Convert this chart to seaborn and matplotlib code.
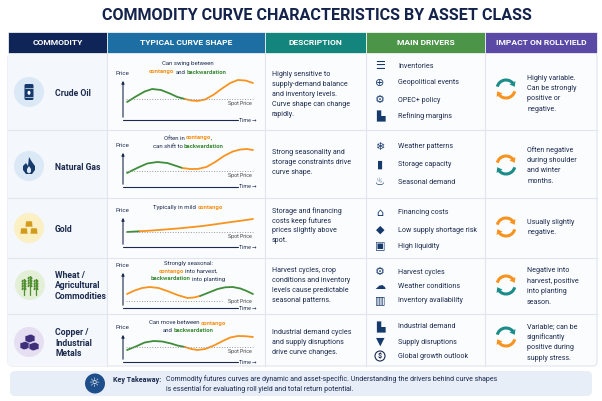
import numpy as np
import pandas as pd
import matplotlib.pyplot as plt
import seaborn as sns
from matplotlib.patches import Rectangle, FancyBboxPatch, Circle, Polygon, Ellipse, Arc

sns.set_theme(style="white")
plt.rcParams['font.family'] = ['Roboto', 'DejaVu Sans']

NAVY = '#1b2a4e'
ORANGE = '#f7931e'
GREEN = '#3f8d3a'
TEAL = '#1a8c8a'

# ---- data ----
title = "COMMODITY CURVE CHARACTERISTICS BY ASSET CLASS"
headers = ["COMMODITY", "TYPICAL CURVE SHAPE", "DESCRIPTION", "MAIN DRIVERS", "IMPACT ON ROLLYIELD"]
header_colors = ['#0f2557', '#1c6ea3', '#14857c', '#4c9447', '#5a4aa6']

commodities = ["Crude Oil", "Natural Gas", "Gold",
               "Wheat /\nAgricultural\nCommodities", "Copper /\nIndustrial\nMetals"]

curve_titles = [
    [[("Can swing between", NAVY)],
     [("contango", ORANGE), (" and ", NAVY), ("backwardation", GREEN)]],
    [[("Often in ", NAVY), ("contango", ORANGE), (",", NAVY)],
     [("can shift to ", NAVY), ("backwardation", GREEN)]],
    [[("Typically in mild ", NAVY), ("contango", ORANGE)]],
    [[("Strongly seasonal:", NAVY)],
     [("contango", ORANGE), (" into harvest,", NAVY)],
     [("backwardation", GREEN), (" into planting", NAVY)]],
    [[("Can move between ", NAVY), ("contango", ORANGE)],
     [("and ", NAVY), ("backwardation", GREEN)]],
]

# futures price relative to spot along time to maturity
crude_t = [0, 0.7, 1.4, 2.0, 2.7, 3.4, 4.0, 4.6, 5.1, 5.6, 6.2, 6.9, 7.6, 8.2, 8.8, 9.4, 10]
crude_p = [-0.3, 0.25, 0.75, 1.0, 0.9, 0.55, 0.2, 0.0, -0.15, -0.2, -0.05, 0.45, 1.1, 1.6, 1.9, 1.85, 1.6]
gas_t = [0, 0.8, 1.6, 2.4, 3.2, 3.8, 4.4, 5.0, 5.6, 6.3, 7.0, 7.7, 8.4, 9.0, 9.5, 10]
gas_p = [-0.2, 0.3, 0.75, 0.9, 0.8, 0.55, 0.3, 0.2, 0.2, 0.4, 0.9, 1.5, 1.95, 2.15, 2.2, 2.1]
gold_t = [0, 1, 2, 3, 4, 5, 6, 7, 8, 9, 10]
gold_p = [0.0, 0.07, 0.15, 0.25, 0.35, 0.47, 0.6, 0.77, 0.95, 1.12, 1.3]
wheat_t = [0, 0.6, 1.2, 1.8, 2.5, 3.2, 4.0, 4.8, 5.3, 5.8, 6.5, 7.2, 7.8, 8.4, 9.0, 9.5, 10]
wheat_p = [0.7, 1.05, 1.3, 1.4, 1.3, 1.0, 0.6, 0.3, 0.35, 0.5, 0.85, 1.2, 1.37, 1.4, 1.25, 1.0, 0.7]
copper_t = [0, 0.7, 1.4, 2.1, 2.8, 3.5, 4.0, 4.6, 5.1, 5.6, 6.2, 6.9, 7.6, 8.2, 8.8, 9.4, 10]
copper_p = [-0.3, 0.05, 0.45, 0.6, 0.55, 0.35, 0.15, 0.0, -0.2, -0.3, -0.2, 0.15, 0.6, 0.95, 1.1, 1.08, 1.0]

curves = [(crude_t, crude_p), (gas_t, gas_p), (gold_t, gold_p), (wheat_t, wheat_p), (copper_t, copper_p)]
split_idx = [7, 6, 1, 9, 7]
regimes = [(GREEN, ORANGE), (GREEN, ORANGE), (GREEN, ORANGE), (ORANGE, GREEN), (GREEN, ORANGE)]

descriptions = [
    "Highly sensitive to\nsupply-demand balance\nand inventory levels.\nCurve shape can change\nrapidly.",
    "Strong seasonality and\nstorage constraints drive\ncurve shape.",
    "Storage and financing\ncosts keep futures\nprices slightly above\nspot.",
    "Harvest cycles, crop\nconditions and inventory\nlevels cause predictable\nseasonal patterns.",
    "Industrial demand cycles\nand supply disruptions\ndrive curve changes.",
]

drivers = [
    ["Inventories", "Geopolitical events", "OPEC+ policy", "Refining margins"],
    ["Weather patterns", "Storage capacity", "Seasonal demand"],
    ["Financing costs", "Low supply shortage risk", "High liquidity"],
    ["Harvest cycles", "Weather conditions", "Inventory availability"],
    ["Industrial demand", "Supply disruptions", "Global growth outlook"],
]
driver_glyphs = [["☰", "⊕", "⚙", "▙"], ["❄", "▮", "♨"], ["⌂", "◆", "▣"],
                 ["⚙", "☁", "▥"], ["▙", "▼", "$"]]

impacts = [
    "Highly variable.\nCan be strongly\npositive or\nnegative.",
    "Often negative\nduring shoulder\nand winter\nmonths.",
    "Usually slightly\nnegative.",
    "Negative into\nharvest, positive\ninto planting\nseason.",
    "Variable; can be\nsignificantly\npositive during\nsupply stress.",
]
impact_arrows = [(TEAL, ORANGE), (ORANGE, TEAL), (ORANGE, ORANGE), (ORANGE, TEAL), (TEAL, ORANGE)]

takeaway = ("Commodity futures curves are dynamic and asset-specific. Understanding the drivers behind curve shapes\n"
            "is essential for evaluating roll yield and total return potential.")

# ---- layout (pixels) ----
W, H = 602, 401
col_x = [8, 107, 265, 366, 485, 597]
row_y = [53, 130, 198, 258, 314, 366]
icon_c = [(29, 92), (29, 166), (29, 228), (30, 285), (29, 342)]
panel_px = [(78, 120, 99), (150, 187, 171), (215, 247, 232), (270, 308, 301), (332, 362, 347)]
spot_lbl = [(4.5, 0.95), (4.5, 0.95), (4.5, 0.95), (0.5, 0.72), (4.5, 0.95)]
title_y = [[64, 72], [138, 146], [208], [263, 271, 279], [323, 330]]
desc_y0 = [74, 153, 211, 271, 332]
driver_y = [[66, 83, 100, 116], [147, 165, 182], [213, 230, 246], [272, 286, 300], [327, 342, 356]]
impact_y0 = [78, 150, 222, 271, 327]
impact_c = [89, 165, 227, 285, 337]

fig = plt.figure(figsize=(W / 100, H / 100), dpi=100)
fig.patch.set_facecolor('white')
bg = fig.add_axes([0, 0, 1, 1])
bg.set_xlim(0, W)
bg.set_ylim(H, 0)
bg.axis('off')
renderer = fig.canvas.get_renderer()

bg.text(317, 16, title, ha='center', va='center', fontsize=11.6, fontweight='bold', color='#14234b')

# table body
bg.add_patch(FancyBboxPatch((col_x[0], row_y[0]), col_x[-1] - col_x[0], row_y[-1] - row_y[0],
                            boxstyle="round,pad=0,rounding_size=4", fc='#fbfcfe', ec='#dfe5ee', lw=0.8))
bg.add_patch(Rectangle((col_x[0], row_y[0]), col_x[1] - col_x[0], row_y[-1] - row_y[0],
                       fc='#f4f7fb', ec='none'))
for x in col_x[1:-1]:
    bg.plot([x, x], [row_y[0], row_y[-1]], color='#e1e6ee', lw=0.8)
for y in row_y[1:-1]:
    bg.plot([col_x[0], col_x[-1]], [y, y], color='#e1e6ee', lw=0.8)

# header
for i, (h, c) in enumerate(zip(headers, header_colors)):
    bg.add_patch(Rectangle((col_x[i], 32), col_x[i + 1] - col_x[i], 21, fc=c, ec='white', lw=0.5))
    bg.text((col_x[i] + col_x[i + 1]) / 2, 42.5, h, ha='center', va='center',
            fontsize=6.1, fontweight='bold', color='white')


def rich_line(xc, y, parts, size):
    # words are laid out one after another, spaces given a fixed width
    space = 0.2 * size * 100 / 72
    items = []
    for s, c in parts:
        weight = 'bold' if c != NAVY else 'normal'
        lead = len(s) - len(s.lstrip(' '))
        trail = len(s) - len(s.rstrip(' '))
        t = bg.text(0, y, s.strip(' '), color=c, fontsize=size, va='center', ha='left', fontweight=weight)
        bb = t.get_window_extent(renderer)
        items.append((t, lead * space, bb.width + trail * space))
    total = sum(a + b for _, a, b in items)
    x = xc - total / 2
    for t, a, b in items:
        x += a
        t.set_x(x)
        x += b


def circ_arrow(cx, cy, r, th1, th2, color):
    bg.add_patch(Arc((cx, cy), 2 * r, 2 * r, theta1=th1, theta2=th2, color=color, lw=2.2))
    a0, a1 = np.radians(th2 - 4), np.radians(th2 + 26)
    b = np.array([cx + r * np.cos(a0), cy + r * np.sin(a0)])
    tip = np.array([cx + r * np.cos(a1), cy + r * np.sin(a1)])
    u = (tip - b) / np.linalg.norm(tip - b)
    n = np.array([-u[1], u[0]])
    bg.add_patch(Polygon([b + 3.4 * n, b - 3.4 * n, tip], fc=color, ec='none'))


def commodity_icon(i, cx, cy):
    face = ['#dbe8f5', '#dbe8f5', '#fbefc4', '#e3efd7', '#e6dff2'][i]
    bg.add_patch(Circle((cx, cy), 15, fc=face, ec='none'))
    if i == 0:
        bg.add_patch(FancyBboxPatch((cx - 4.5, cy - 8), 9, 16, boxstyle="round,pad=0,rounding_size=1.5",
                                    fc='#173a6c', ec='none'))
        bg.plot([cx - 4.5, cx + 4.5], [cy - 4.5, cy - 4.5], color='#dbe8f5', lw=0.5)
        bg.plot([cx - 4.5, cx + 4.5], [cy + 4.5, cy + 4.5], color='#dbe8f5', lw=0.5)
        bg.add_patch(Ellipse((cx, cy + 0.8), 3, 4, fc='white', ec='none'))
    elif i == 1:
        pts = [(0, -9), (3, -4), (6, 0), (6, 4), (3, 8), (-3, 8), (-6, 4), (-6, 0), (-3, -3), (-1, 0)]
        bg.add_patch(Polygon([(cx + a, cy + b) for a, b in pts], fc='#173a6c', ec='none'))
        inner = [(0, 0), (2, 3), (2, 6), (0, 7.5), (-2, 6), (-2, 3)]
        bg.add_patch(Polygon([(cx + a, cy + b) for a, b in inner], fc='#dbe8f5', ec='none'))
    elif i == 2:
        for ox, oy in [(-5, 3), (5, 3), (0, -4)]:
            trap = [(-4, 3), (4, 3), (3, -3), (-3, -3)]
            bg.add_patch(Polygon([(cx + ox + a, cy + oy + b) for a, b in trap], fc='#d29b1c', ec='#fbefc4', lw=0.4))
    elif i == 3:
        for ox, top in [(-6, -6), (0, -9), (6, -6)]:
            bg.plot([cx + ox, cx + ox], [cy + top, cy + 10], color='#4f8f2f', lw=0.9)
            for k in range(4):
                yy = cy + top + 2 + k * 2.6
                bg.add_patch(Ellipse((cx + ox - 1.3, yy), 2, 3, angle=30, fc='#4f8f2f', ec='none'))
                bg.add_patch(Ellipse((cx + ox + 1.3, yy), 2, 3, angle=-30, fc='#4f8f2f', ec='none'))
    else:
        for ox, oy in [(-5, 3), (4, 4), (0, -4)]:
            cube = [(-4, -2), (2, -4), (6, -2), (6, 3), (0, 5), (-4, 3)]
            bg.add_patch(Polygon([(cx + ox + a, cy + oy + b) for a, b in cube], fc='#3d2f7a', ec='#e6dff2', lw=0.5))


for i in range(5):
    cx, cy = icon_c[i]
    commodity_icon(i, cx, cy)
    bg.text(55, cy + 1, commodities[i], ha='left', va='center', fontsize=6.2,
            fontweight='bold', color=NAVY, linespacing=1.25)

    # curve panel
    ytop, ybot, spot = panel_px[i]
    ax = fig.add_axes([123 / W, 1 - ybot / H, 137 / W, (ybot - ytop) / H])
    ax.set_xlim(-0.32, 10.56)
    ax.set_ylim((spot - ybot) / 10, (spot - ytop) / 10)
    ax.axis('off')
    ax.patch.set_alpha(0)
    t, p = curves[i]
    k = split_idx[i]
    c1, c2 = regimes[i]
    df = pd.DataFrame({"time": t, "price": p})
    sns.lineplot(data=df.iloc[:k + 1], x="time", y="price", ax=ax, color=c1, lw=1.3)
    sns.lineplot(data=df.iloc[k:], x="time", y="price", ax=ax, color=c2, lw=1.3)
    for ln in ax.lines:
        ln.set_clip_on(False)
        ln.set_solid_capstyle('round')
    off, xmax = spot_lbl[i]
    ax.axhline(0, xmin=0.02, xmax=xmax, color='#9a9a9a', ls=':', lw=0.7)
    ax.annotate('', xy=(0, 1), xytext=(0, 0), xycoords='axes fraction',
                arrowprops=dict(arrowstyle='-|>', color=NAVY, lw=0.8, mutation_scale=4))
    ax.plot([0, 0.84], [0, 0], transform=ax.transAxes, color=NAVY, lw=0.8, clip_on=False)
    ax.text(0.85, 0, "Time →", transform=ax.transAxes, fontsize=3.8, color=NAVY, va='center', ha='left')
    bg.text(252, spot + off, "Spot Price", ha='right', va='center', fontsize=3.8, color='#444')
    bg.text(122, ytop - 2, "Price", ha='center', va='bottom', fontsize=4.4, color=NAVY)
    for parts, y in zip(curve_titles[i], title_y[i]):
        rich_line(188, y, parts, 4.3)

    # description
    for j, line in enumerate(descriptions[i].split('\n')):
        bg.text(272, desc_y0[i] + j * 10, line, ha='left', va='center', fontsize=5.1, color=NAVY)

    # drivers
    for g, d, y in zip(driver_glyphs[i], drivers[i], driver_y[i]):
        if g == "$":
            bg.add_patch(Circle((380, y), 5, fc='none', ec=NAVY, lw=0.8))
            bg.text(380, y, g, ha='center', va='center', fontsize=5, color=NAVY, fontweight='bold')
        else:
            bg.text(380, y, g, ha='center', va='center', fontsize=8, color='#173a6c', family='DejaVu Sans')
        bg.text(398, y, d, ha='left', va='center', fontsize=5.1, color=NAVY)

    # impact
    cy2 = impact_c[i]
    ctop, cbot = impact_arrows[i]
    circ_arrow(506, cy2, 9, 195, 320, ctop)
    circ_arrow(506, cy2, 9, 15, 140, cbot)
    for j, line in enumerate(impacts[i].split('\n')):
        bg.text(527, impact_y0[i] + j * 10.4, line, ha='left', va='center', fontsize=5.1, color=NAVY)

# key takeaway
bg.add_patch(FancyBboxPatch((10, 371), 582, 25, boxstyle="round,pad=0,rounding_size=5",
                            fc='#e7eef8', ec='none'))
bg.add_patch(Circle((95, 383.5), 10, fc='#1f4f8a', ec='none'))
bg.text(95, 383.5, "☼", ha='center', va='center', fontsize=9, color='white', family='DejaVu Sans')
bg.text(113, 379.5, "Key Takeaway:", ha='left', va='center', fontsize=5.1, fontweight='bold', color=NAVY)
for j, line in enumerate(takeaway.split('\n')):
    bg.text(166, 379.5 + j * 10, line, ha='left', va='center', fontsize=5.0, color=NAVY)

fig.savefig("out.png", dpi=100)
